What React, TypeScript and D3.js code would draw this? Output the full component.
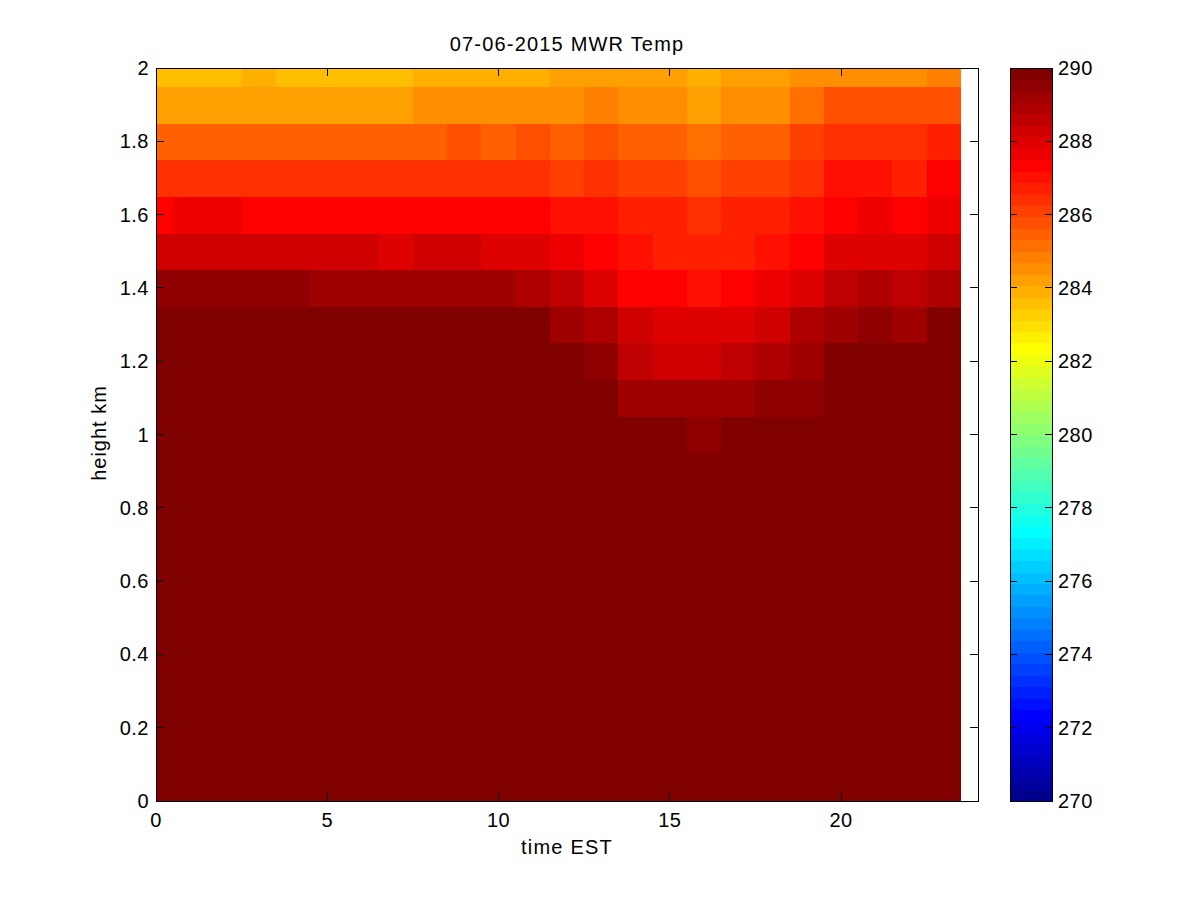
import React from "react";
import * as d3 from "d3";

// ---- data ----
const TITLE = "07-06-2015 MWR Temp";
const X_LABEL = "time EST";
const Y_LABEL = "height km";

// column centres (hours, EST)
const HOURS = [0, 1, 2, 3, 4, 5, 6, 7, 8, 9, 10, 11, 12, 13, 14, 15, 16, 17, 18, 19, 20, 21, 22, 23];
// row centres (km)
const HEIGHTS = [0, 0.1, 0.2, 0.3, 0.4, 0.5, 0.6, 0.7, 0.8, 0.9, 1.0, 1.1, 1.2, 1.3, 1.4, 1.5, 1.6, 1.7, 1.8, 1.9, 2.0];

const X_TICKS = [0, 5, 10, 15, 20];
const Y_TICKS = [0, 0.2, 0.4, 0.6, 0.8, 1, 1.2, 1.4, 1.6, 1.8, 2];
const C_TICKS = [270, 272, 274, 276, 278, 280, 282, 284, 286, 288, 290];
const C_LIMITS = [270, 290];

// temperature (K) per height row, one value per hour; values >= 290 saturate the colour scale
const T_000 = [290, 290, 290, 290, 290, 290, 290, 290, 290, 290, 290, 290, 290, 290, 290, 290, 290, 290, 290, 290, 290, 290, 290, 290];
const T_010 = [290, 290, 290, 290, 290, 290, 290, 290, 290, 290, 290, 290, 290, 290, 290, 290, 290, 290, 290, 290, 290, 290, 290, 290];
const T_020 = [290, 290, 290, 290, 290, 290, 290, 290, 290, 290, 290, 290, 290, 290, 290, 290, 290, 290, 290, 290, 290, 290, 290, 290];
const T_030 = [290, 290, 290, 290, 290, 290, 290, 290, 290, 290, 290, 290, 290, 290, 290, 290, 290, 290, 290, 290, 290, 290, 290, 290];
const T_040 = [290, 290, 290, 290, 290, 290, 290, 290, 290, 290, 290, 290, 290, 290, 290, 290, 290, 290, 290, 290, 290, 290, 290, 290];
const T_050 = [290, 290, 290, 290, 290, 290, 290, 290, 290, 290, 290, 290, 290, 290, 290, 290, 290, 290, 290, 290, 290, 290, 290, 290];
const T_060 = [290, 290, 290, 290, 290, 290, 290, 290, 290, 290, 290, 290, 290, 290, 290, 290, 290, 290, 290, 290, 290, 290, 290, 290];
const T_070 = [290, 290, 290, 290, 290, 290, 290, 290, 290, 290, 290, 290, 290, 290, 290, 290, 290, 290, 290, 290, 290, 290, 290, 290];
const T_080 = [290, 290, 290, 290, 290, 290, 290, 290, 290, 290, 290, 290, 290, 290, 290, 290, 290, 290, 290, 290, 290, 290, 290, 290];
const T_090 = [290, 290, 290, 290, 290, 290, 290, 290, 290, 290, 290, 290, 290, 290, 290, 290, 290, 290, 290, 290, 290, 290, 290, 290];
const T_100 = [290, 290, 290, 290, 290, 290, 290, 290, 290, 290, 290, 290, 290, 290, 290, 290, 289.5, 290, 290, 290, 290, 290, 290, 290];
const T_110 = [290, 290, 290, 290, 290, 290, 290, 290, 290, 290, 290, 290, 290, 290, 289.2, 289.2, 289.2, 289.2, 289.5, 289.5, 290, 290, 290, 290];
const T_120 = [290, 290, 290, 290, 290, 290, 290, 290, 290, 290, 290, 290, 290, 289.5, 288.6, 288.3, 288.3, 288.6, 288.9, 289.2, 290, 290, 290, 290];
const T_130 = [290, 290, 290, 290, 290, 290, 290, 290, 290, 290, 290, 290, 289.2, 288.9, 288.3, 288.0, 288.0, 288.0, 288.3, 288.9, 289.2, 289.5, 289.2, 290];
const T_140 = [289.5, 289.5, 289.5, 289.5, 289.5, 289.2, 289.2, 289.2, 289.2, 289.2, 289.2, 288.9, 288.6, 288.0, 287.3, 287.3, 287.0, 287.3, 287.7, 288.0, 288.6, 288.9, 288.6, 288.9];
const T_150 = [288.3, 288.3, 288.3, 288.3, 288.3, 288.3, 288.3, 288.0, 288.3, 288.3, 288.0, 288.0, 287.7, 287.3, 287.0, 286.7, 286.7, 286.7, 287.0, 287.3, 288.0, 288.0, 288.0, 288.3];
const T_160 = [287.3, 287.7, 287.7, 287.3, 287.3, 287.3, 287.3, 287.3, 287.3, 287.3, 287.3, 287.3, 287.0, 287.0, 286.7, 286.7, 286.4, 286.7, 286.7, 287.0, 287.3, 287.7, 287.3, 287.7];
const T_170 = [286.4, 286.4, 286.4, 286.4, 286.4, 286.4, 286.4, 286.4, 286.4, 286.4, 286.4, 286.4, 286.1, 286.4, 286.1, 286.1, 285.8, 286.1, 286.1, 286.4, 287.0, 287.0, 286.7, 287.3];
const T_180 = [285.5, 285.5, 285.5, 285.5, 285.5, 285.5, 285.5, 285.5, 285.5, 285.8, 285.5, 285.8, 285.5, 285.8, 285.5, 285.5, 285.2, 285.5, 285.5, 286.1, 286.4, 286.4, 286.4, 286.7];
const T_190 = [284.2, 284.2, 284.2, 284.2, 284.2, 284.2, 284.2, 284.2, 284.5, 284.5, 284.5, 284.5, 284.5, 284.8, 284.5, 284.5, 284.2, 284.5, 284.5, 285.2, 285.8, 285.8, 285.8, 285.8];
const T_200 = [283.6, 283.6, 283.6, 283.9, 283.6, 283.6, 283.6, 283.6, 283.9, 283.9, 283.9, 283.9, 284.2, 284.2, 284.2, 284.2, 283.9, 284.2, 284.2, 284.5, 284.5, 284.5, 284.5, 284.8];

const TEMP_ROWS = [T_000, T_010, T_020, T_030, T_040, T_050, T_060, T_070, T_080, T_090, T_100,
  T_110, T_120, T_130, T_140, T_150, T_160, T_170, T_180, T_190, T_200];

// MATLAB jet(64) colormap
function jet(m: number): string[] {
  const n = Math.ceil(m / 4);
  const u: number[] = [];
  for (let k = 1; k <= n; k++) u.push(k / n);
  for (let k = 1; k < n; k++) u.push(1);
  for (let k = n; k >= 1; k--) u.push(k / n);
  const g0 = Math.ceil(n / 2) - (m % 4 === 1 ? 1 : 0);
  const r = new Array(m).fill(0), g = new Array(m).fill(0), b = new Array(m).fill(0);
  u.forEach((val, j) => {
    const gi = g0 + j;
    if (gi >= 0 && gi < m) g[gi] = val;
    if (gi + n >= 0 && gi + n < m) r[gi + n] = val;
    if (gi - n >= 0 && gi - n < m) b[gi - n] = val;
  });
  return r.map((_, i) => d3.rgb(r[i] * 255, g[i] * 255, b[i] * 255).formatHex());
}

const JET = jet(64);

export default function App() {
  const W = 1200, H = 900;
  const L = 156, R = 978, T = 68, B = 801;
  const CB_L = 1010, CB_R = 1052;
  const FONT = "'Liberation Sans', Arial, Helvetica, sans-serif";
  const FS = 20;
  const TICK = 8;
  const LS_TEXT = 1.2;
  const LS_NUM = 0.5;

  const x = d3.scaleLinear().domain([0, 24]).range([L, R]);
  const y = d3.scaleLinear().domain([0, 2]).range([B, T]);
  const color = d3.scaleQuantize<string>().domain(C_LIMITS).range(JET);
  const cy = d3.scaleLinear().domain(C_LIMITS).range([B, T]);

  const cells: React.ReactNode[] = [];
  const dx = 0.5, dy = 0.05;
  HEIGHTS.forEach((h, i) => {
    HOURS.forEach((t, j) => {
      const x0 = x(Math.max(0, t - dx));
      const x1 = x(Math.min(24, t + dx));
      const y0 = y(Math.min(2, h + dy));
      const y1 = y(Math.max(0, h - dy));
      cells.push(
        <rect key={`c${i}-${j}`} x={x0} y={y0} width={x1 - x0 + 0.6} height={y1 - y0 + 0.6}
          fill={color(TEMP_ROWS[i][j])} shapeRendering="crispEdges" />
      );
    });
  });

  const bands = JET.map((c, i) => {
    const v0 = C_LIMITS[0] + (i * (C_LIMITS[1] - C_LIMITS[0])) / JET.length;
    const v1 = C_LIMITS[0] + ((i + 1) * (C_LIMITS[1] - C_LIMITS[0])) / JET.length;
    return <rect key={`b${i}`} x={CB_L} y={cy(v1)} width={CB_R - CB_L} height={cy(v0) - cy(v1) + 0.6}
      fill={c} shapeRendering="crispEdges" />;
  });

  const fmt = (v: number) => String(+v.toFixed(1));

  return (
    <svg width={W} height={H} style={{ position: "absolute", left: 0, top: 0, background: "#fff" }}
      fontFamily={FONT} fontSize={FS}>
      <rect x={0} y={0} width={W} height={H} fill="#fff" />
      <defs>
        <clipPath id="plotclip"><rect x={L} y={T} width={R - L} height={B - T} /></clipPath>
      </defs>
      <rect x={L} y={T} width={R - L} height={B - T} fill="#fff" />
      <g clipPath="url(#plotclip)">{cells}</g>
      {/* axes box */}
      <rect x={L} y={T} width={R - L} height={B - T} fill="none" stroke="#000" strokeWidth={1} shapeRendering="crispEdges" />
      {X_TICKS.map((v) => (
        <g key={`xt${v}`}>
          <line x1={x(v)} x2={x(v)} y1={B} y2={B - TICK} stroke="#000" shapeRendering="crispEdges" />
          <line x1={x(v)} x2={x(v)} y1={T} y2={T + TICK} stroke="#000" shapeRendering="crispEdges" />
          <text x={x(v)} y={B + 26} textAnchor="middle" fill="#000" letterSpacing={LS_NUM}>{fmt(v)}</text>
        </g>
      ))}
      {Y_TICKS.map((v) => (
        <g key={`yt${v}`}>
          <line x1={L} x2={L + TICK} y1={y(v)} y2={y(v)} stroke="#000" shapeRendering="crispEdges" />
          <line x1={R} x2={R - TICK} y1={y(v)} y2={y(v)} stroke="#000" shapeRendering="crispEdges" />
          <text x={L - 7} y={y(v)} dy="0.35em" textAnchor="end" fill="#000" letterSpacing={LS_NUM}>{fmt(v)}</text>
        </g>
      ))}
      <text x={(L + R) / 2} y={51} textAnchor="middle" fill="#000" letterSpacing={LS_TEXT}>{TITLE}</text>
      <text x={(L + R) / 2} y={854} textAnchor="middle" fill="#000" letterSpacing={LS_TEXT}>{X_LABEL}</text>
      <text transform={`translate(106, 433) rotate(-90)`} textAnchor="middle" fill="#000" letterSpacing={1}>{Y_LABEL}</text>

      {/* colorbar */}
      {bands}
      <rect x={CB_L} y={T} width={CB_R - CB_L} height={B - T} fill="none" stroke="#000" shapeRendering="crispEdges" />
      {C_TICKS.map((v) => (
        <g key={`ct${v}`}>
          <line x1={CB_L} x2={CB_L + 7} y1={cy(v)} y2={cy(v)} stroke="#000" shapeRendering="crispEdges" />
          <line x1={CB_R} x2={CB_R - 7} y1={cy(v)} y2={cy(v)} stroke="#000" shapeRendering="crispEdges" />
          <text x={CB_R + 6} y={cy(v)} dy="0.35em" textAnchor="start" fill="#000" letterSpacing={LS_NUM}>{v}</text>
        </g>
      ))}
    </svg>
  );
}
